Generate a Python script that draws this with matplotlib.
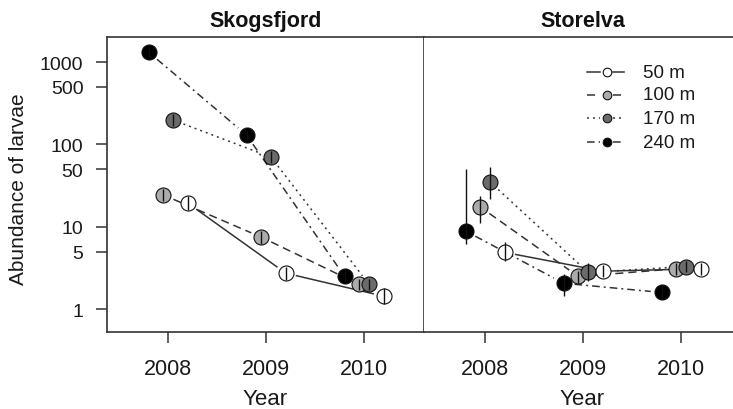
import numpy as np
import matplotlib
matplotlib.use("Agg")
import matplotlib.pyplot as plt

plt.rcParams['font.family'] = ['Liberation Sans', 'DejaVu Sans']
plt.rcParams['lines.scale_dashes'] = False

# ---------------- data ----------------
years = [2008, 2009, 2010]
depths = ['50 m', '100 m', '170 m', '240 m']
sites = ['Skogsfjord', 'Storelva']

# Skogsfjord abundance (mean, lower, upper)
sk_50 = [19.4, 2.74, 1.44]
sk_50_lo = [16.0, 2.25, 1.15]
sk_50_hi = [23.5, 3.3, 1.8]
sk_100 = [24.4, 7.5, 2.0]
sk_100_lo = [20.5, 6.2, 1.7]
sk_100_hi = [29.0, 9.0, 2.35]
sk_170 = [198, 70, 2.0]
sk_170_lo = [168, 59, 1.7]
sk_170_hi = [232, 83, 2.35]
sk_240 = [1320, 130, 2.5]
sk_240_lo = [1150, 112, 2.15]
sk_240_hi = [1500, 150, 2.9]

# Storelva abundance (mean, lower, upper)
st_50 = [4.9, 2.9, 3.1]
st_50_lo = [3.9, 2.45, 2.6]
st_50_hi = [6.5, 3.45, 3.65]
st_100 = [17.4, 2.5, 3.1]
st_100_lo = [11.3, 2.1, 2.6]
st_100_hi = [23.8, 2.95, 3.65]
st_170 = [35, 2.8, 3.3]
st_170_lo = [21.7, 2.2, 2.8]
st_170_hi = [53, 3.6, 3.9]
st_240 = [8.9, 2.07, 1.6]
st_240_lo = [6.2, 1.45, 1.35]
st_240_hi = [51, 2.66, 1.9]

ytick_vals = [1, 5, 10, 50, 100, 500, 1000]
ytick_labels = ['1', '5', '10', '50', '100', '500', '1000']

# ---------------- styles ----------------
W, H = 733, 410
dodge = {'50 m': 0.2, '100 m': -0.05, '170 m': 0.05, '240 m': -0.2}
face = {'50 m': '#ffffff', '100 m': '#ababab', '170 m': '#6b6b6b', '240 m': '#000000'}
dash = {'50 m': (None, None), '100 m': (5.8, 3.6), '170 m': (1.4, 2.9), '240 m': (5.5, 2.9, 1.4, 2.9)}
order = ['100 m', '170 m', '50 m', '240 m']
line_col = '#333333'
spine_col = '#333333'

site_data = {
    'Skogsfjord': {
        '50 m': (sk_50, sk_50_lo, sk_50_hi),
        '100 m': (sk_100, sk_100_lo, sk_100_hi),
        '170 m': (sk_170, sk_170_lo, sk_170_hi),
        '240 m': (sk_240, sk_240_lo, sk_240_hi),
    },
    'Storelva': {
        '50 m': (st_50, st_50_lo, st_50_hi),
        '100 m': (st_100, st_100_lo, st_100_hi),
        '170 m': (st_170, st_170_lo, st_170_hi),
        '240 m': (st_240, st_240_lo, st_240_hi),
    },
}

fig = plt.figure(figsize=(W / 100, H / 100), dpi=100)
fig.patch.set_facecolor('white')

ax_w = 317 / W
ax_b = (H - 333) / H
ax_h = 294.7 / H
ax1 = fig.add_axes([107 / W, ax_b, ax_w, ax_h])
ax2 = fig.add_axes([424 / W, ax_b, ax_w, ax_h])


def gapped(ax, xs, ys, gap_px, **kw):
    pts = ax.transData.transform(np.column_stack([xs, ys]))
    inv = ax.transData.inverted()
    for p0, p1 in zip(pts[:-1], pts[1:]):
        d = p1 - p0
        L = np.hypot(*d)
        if L <= 2 * gap_px:
            continue
        u = d / L
        q = inv.transform(np.array([p0 + u * gap_px, p1 - u * gap_px]))
        ax.plot(q[:, 0], q[:, 1], **kw)


for ax, site in zip([ax1, ax2], sites):
    ax.set_yscale('log')
    ax.set_xlim(2007.375, 2010.61)
    ax.set_ylim(0.53, 2000)
    ax.minorticks_off()
    for i, dep in enumerate(order):
        vals, lo, hi = site_data[site][dep]
        xs = np.array(years) + dodge[dep]
        ls = '-' if dep == '50 m' else (0, dash[dep])
        gapped(ax, xs, vals, 11, color=line_col, lw=1.1, linestyle=ls, zorder=2)
    for i, dep in enumerate(order):
        vals, lo, hi = site_data[site][dep]
        xs = np.array(years) + dodge[dep]
        z = 3 + i * 0.1
        ax.plot(xs, vals, 'o', ms=10.8, mfc=face[dep], mec='#111111', mew=0.8,
                linestyle='none', zorder=z)
        ax.vlines(xs, lo, hi, color='#111111', lw=1.0, zorder=z + 0.05)
    ax.set_xticks(years)
    ax.set_xticklabels([str(y) for y in years], fontsize=15.5, color='#1a1a1a')
    ax.tick_params(axis='x', length=8, width=1.1, color=spine_col, pad=11)
    ax.set_title(site, fontsize=15.5, fontweight='bold', pad=8, color='#111111')
    for s in ax.spines.values():
        s.set_color(spine_col)
        s.set_linewidth(1.2)

ax1.set_yticks(ytick_vals)
ax1.set_yticklabels(ytick_labels, fontsize=14, color='#1a1a1a')
ax1.tick_params(axis='y', length=8, width=1.1, color=spine_col, pad=9)
ax2.tick_params(axis='y', left=False, labelleft=False)
ax2.spines['right'].set_visible(False)
ax2.spines['left'].set_visible(False)

# legend (manual, axes coordinates)
leg_rows = [0.8812, 0.8052, 0.7251, 0.6437]
for dep, yy in zip(depths, leg_rows):
    ls = '-' if dep == '50 m' else (0, dash[dep])
    ax2.plot([0.514, 0.556], [yy, yy], transform=ax2.transAxes, color=line_col,
             lw=1.1, linestyle=ls, zorder=5)
    ax2.plot([0.597, 0.632], [yy, yy], transform=ax2.transAxes, color=line_col,
             lw=1.1, linestyle=ls, zorder=5)
    ax2.plot([0.5763], [yy], 'o', transform=ax2.transAxes, ms=6.2, mfc=face[dep],
             mec='#111111', mew=0.8, zorder=6)
    ax2.text(0.69, yy, dep, transform=ax2.transAxes, fontsize=13.5, va='center',
             ha='left', color='#1a1a1a')

fig.text(19 / W, 1 - 189 / H, 'Abundance of larvae', rotation=90, ha='center',
         va='center', fontsize=15, color='#1a1a1a')
fig.text(265.5 / W, 5 / H, 'Year', ha='center', va='baseline', fontsize=16, color='#1a1a1a')
fig.text(582.5 / W, 5 / H, 'Year', ha='center', va='baseline', fontsize=16, color='#1a1a1a')

fig.savefig('out.png', dpi=100, facecolor='white')
